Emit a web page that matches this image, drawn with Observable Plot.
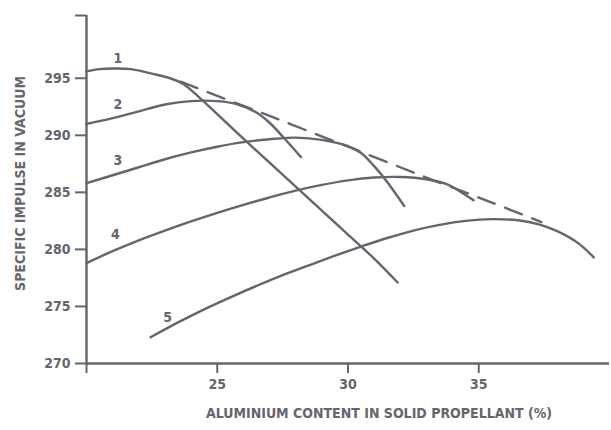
<!DOCTYPE html>
<html><head><meta charset="utf-8">
<script src="https://cdn.jsdelivr.net/npm/d3@7"></script>
<script src="https://cdn.jsdelivr.net/npm/@observablehq/plot@0.6"></script>
<style>html,body{margin:0;padding:0;background:#fff}svg{display:block}</style>
</head><body><div id="chart"></div><script>
// Curve data (aluminium %, specific impulse)
const c1x = [20, 20.5, 21, 21.7, 22.5, 23.2, 23.7, 24.3, 25, 26, 27, 28, 29, 30, 31, 31.9];
const c1y = [295.6, 295.8, 295.85, 295.8, 295.4, 295.0, 294.5, 293.35, 291.85, 289.7, 287.6, 285.5, 283.4, 281.3, 279.2, 277.1];
const c2x = [20, 21, 22, 23, 24, 25, 25.8, 26.5, 27.0, 27.5, 28.2];
const c2y = [291.0, 291.5, 292.1, 292.7, 293.0, 293.0, 292.7, 292.0, 291.1, 289.9, 288.1];
const c3x = [20, 21, 22, 23, 24, 25, 26, 27, 28, 29, 30, 30.5, 31, 31.5, 32.15];
const c3y = [285.8, 286.5, 287.2, 287.9, 288.5, 289.0, 289.4, 289.65, 289.8, 289.6, 289.05, 288.45, 287.3, 285.9, 283.8];
const c4x = [20, 21, 22, 23, 24, 25, 26, 27, 28, 29, 30, 31, 32, 33, 33.8, 34.3, 34.8];
const c4y = [278.8, 279.85, 280.8, 281.65, 282.45, 283.2, 283.9, 284.55, 285.15, 285.65, 286.05, 286.3, 286.35, 286.15, 285.7, 285.05, 284.3];
const c5x = [22.45, 23.5, 24.5, 25.5, 26.5, 27.5, 28.5, 29.5, 30.5, 31.5, 32.5, 33.5, 34.5, 35.5, 36.5, 37.3, 38.0, 38.8, 39.4];
const c5y = [272.3, 273.6, 274.75, 275.8, 276.8, 277.75, 278.6, 279.45, 280.25, 281.0, 281.65, 282.15, 282.5, 282.65, 282.55, 282.2, 281.6, 280.55, 279.3];
const envX = [23.6, 24.5, 27, 30, 33, 35.5, 37.4];
const envY = [294.7, 293.9, 291.7, 289.0, 286.3, 284.1, 282.4];
const curveNames = ["1", "2", "3", "4", "5"];
const labelX = [21.2, 21.2, 21.2, 21.1, 23.1];
const labelY = [296.7, 292.7, 287.8, 281.3, 274.0];
const xTicks = [20, 25, 30, 35];
const yTicks = [270, 275, 280, 285, 290, 295, 300.5];
const xTitle = "ALUMINIUM CONTENT IN SOLID PROPELLANT (%)";
const yTitle = "SPECIFIC IMPULSE IN VACUUM";

const curvesX = [c1x, c2x, c3x, c4x, c5x];
const curvesY = [c1y, c2y, c3y, c4y, c5y];
const rows = [];
curvesX.forEach((xs, i) => xs.forEach((x, j) => rows.push({curve: curveNames[i], x, y: curvesY[i][j]})));
const env = envX.map((x, i) => ({x, y: envY[i]}));
const labels = curveNames.map((t, i) => ({t, x: labelX[i], y: labelY[i]}));

const ink = "#64656d";
const chart = Plot.plot({
  width: 611, height: 430,
  marginLeft: 86, marginRight: 2, marginTop: 15, marginBottom: 67,
  style: {fontFamily: "'DejaVu Sans Condensed', 'DejaVu Sans', sans-serif", fontSize: "14px", fontWeight: "bold", color: ink, background: "#fff"},
  x: {domain: [20, 40]},
  y: {domain: [270, 300.5]},
  marks: [
    Plot.axisX({ticks: xTicks, tickSize: 10, tickPadding: 6, strokeWidth: 2, tickFormat: d => d === 20 ? "" : String(d), label: null}),
    Plot.axisY({ticks: yTicks, tickSize: 11, tickPadding: 5, strokeWidth: 2, tickFormat: d => d > 299 ? "" : String(d), label: null}),
    Plot.ruleX([20], {stroke: ink, strokeWidth: 2.4}),
    Plot.ruleY([270], {stroke: ink, strokeWidth: 2.4}),
    Plot.line(rows, {x: "x", y: "y", z: "curve", curve: "catmull-rom", stroke: ink, strokeWidth: 2.4}),
    Plot.line(env, {x: "x", y: "y", curve: "catmull-rom", stroke: ink, strokeWidth: 2.4, strokeDasharray: "18,11"}),
    Plot.text(labels, {x: "x", y: "y", text: "t", fill: ink, fontSize: 14, fontWeight: "bold"}),
    Plot.text([xTitle], {frameAnchor: "bottom", textAnchor: "middle", dx: 31, dy: 54, fill: ink, fontSize: 14, fontWeight: "bold"}),
    Plot.text([yTitle], {frameAnchor: "left", textAnchor: "middle", rotate: -90, dx: -66, dy: -6, fill: ink, fontSize: 14, fontWeight: "bold"})
  ]
});
document.getElementById("chart").append(chart);
</script></body></html>
